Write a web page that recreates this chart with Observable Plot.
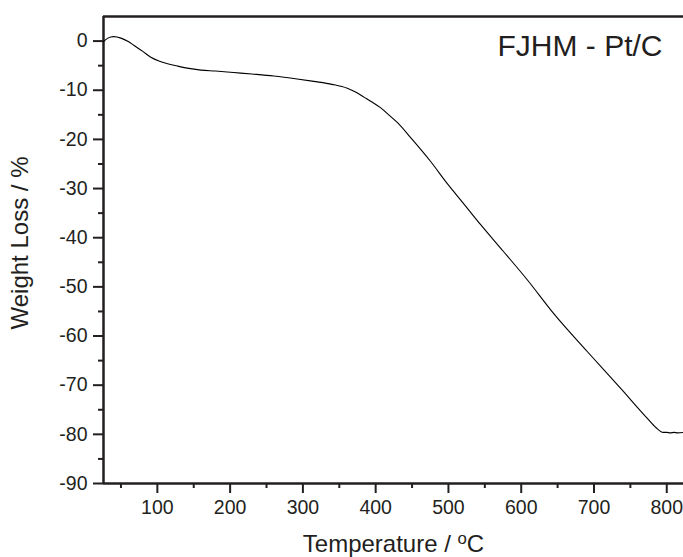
<!DOCTYPE html>
<html>
<head>
<meta charset="utf-8">
<script src="https://cdn.jsdelivr.net/npm/d3@7"></script>
<script src="https://cdn.jsdelivr.net/npm/@observablehq/plot@0.6"></script>
<style>
  html, body { margin: 0; padding: 0; background: #fff; }
  #chart svg { display: block; }
</style>
</head>
<body>
<div id="chart"></div>
<script>
// Data
const temperatures = [26, 32, 40, 50, 60, 68, 80, 91, 103, 114, 128, 141, 160, 180, 205, 230, 260, 292, 315, 340, 361, 373, 384, 395, 407, 418, 430, 449, 475, 499, 520, 544, 575, 608, 645, 691, 737, 773, 785, 795, 800, 805, 810, 815, 823];
const weightLoss = [-0.1, 0.6, 0.9, 0.6, -0.1, -0.9, -2.1, -3.3, -4.1, -4.6, -5.1, -5.5, -5.9, -6.1, -6.4, -6.7, -7.1, -7.7, -8.2, -8.8, -9.6, -10.4, -11.4, -12.4, -13.6, -15.0, -16.6, -19.8, -24.4, -29.1, -32.9, -37.3, -42.7, -48.5, -55.5, -63.2, -70.7, -76.7, -78.6, -79.6, -79.6, -79.7, -79.6, -79.7, -79.6];

const xMajorTicks = [100, 200, 300, 400, 500, 600, 700, 800];
const xMinorTicks = [50, 150, 250, 350, 450, 550, 650, 750];
const yMajorTicks = [0, -10, -20, -30, -40, -50, -60, -70, -80, -90];
const yMinorTicks = [-5, -15, -25, -35, -45, -55, -65, -75, -85];

const xTitle = "Temperature / oC";
const yTitle = "Weight Loss / %";
const sampleLabel = "FJHM - Pt/C";

const data = temperatures.map((t, i) => ({t, w: weightLoss[i]}));
const ink = "#231f20";
const fmt = d => String(d);

const chart = Plot.plot({
  width: 683,
  height: 557,
  marginLeft: 103,
  marginRight: 0,
  marginTop: 16,
  marginBottom: 74,
  style: {fontFamily: "'Liberation Sans', Arial, sans-serif", color: ink, background: "#fff"},
  x: {domain: [26, 823]},
  y: {domain: [-90, 5]},
  marks: [
    Plot.axisX({ticks: xMinorTicks, tickSize: 5, tickFormat: () => "", strokeWidth: 2, stroke: ink, label: null}),
    Plot.axisX({ticks: xMajorTicks, tickSize: 10, tickPadding: 7, tickFormat: fmt, strokeWidth: 2, stroke: ink, fontSize: 19.5, fill: ink, label: null}),
    Plot.axisY({ticks: yMinorTicks, tickSize: 5, tickFormat: () => "", strokeWidth: 2, stroke: ink, label: null}),
    Plot.axisY({ticks: yMajorTicks, tickSize: 10, tickPadding: 6, tickFormat: fmt, strokeWidth: 2, stroke: ink, fontSize: 19.5, fill: ink, label: null}),
    Plot.ruleX([26], {stroke: ink, strokeWidth: 2.5}),
    Plot.ruleY([-90], {stroke: ink, strokeWidth: 2.5}),
    Plot.ruleY([5], {stroke: ink, strokeWidth: 2.5}),
    Plot.line(data, {x: "t", y: "w", stroke: "#000", strokeWidth: 1.1, curve: "monotone-x"}),
    Plot.text([xTitle], {frameAnchor: "bottom", textAnchor: "middle", lineAnchor: "bottom", dy: 68, fontSize: 24, fill: ink, className: "xtitle"}),
    Plot.text([yTitle], {frameAnchor: "left", textAnchor: "middle", lineAnchor: "bottom", rotate: -90, dx: -76, dy: -7, fontSize: 24, fill: ink}),
    Plot.text([sampleLabel], {frameAnchor: "top-right", textAnchor: "end", lineAnchor: "bottom", dx: -21, dy: 39, fontSize: 30, fill: ink})
  ]
});

document.getElementById("chart").appendChild(chart);

// render the "o" of °C as a superscript, as in the reference
const xt = chart.querySelector(".xtitle text");
if (xt) {
  const base = xTitle.slice(0, -2);
  xt.textContent = "";
  const t1 = document.createElementNS("http://www.w3.org/2000/svg", "tspan");
  t1.textContent = base;
  const t2 = document.createElementNS("http://www.w3.org/2000/svg", "tspan");
  t2.textContent = "o";
  t2.setAttribute("dy", "-0.45em");
  t2.setAttribute("font-size", "0.7em");
  const t3 = document.createElementNS("http://www.w3.org/2000/svg", "tspan");
  t3.textContent = "C";
  t3.setAttribute("dy", "0.32em");
  xt.appendChild(t1); xt.appendChild(t2); xt.appendChild(t3);
}
</script>
</body>
</html>
